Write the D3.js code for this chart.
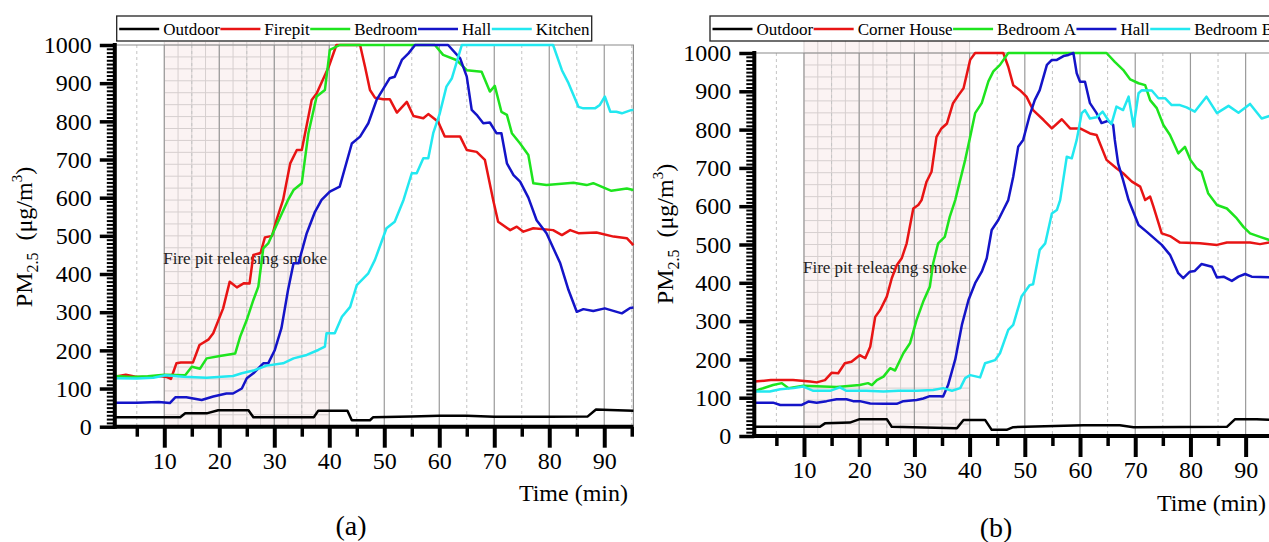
<!DOCTYPE html>
<html>
<head>
<meta charset="utf-8">
<script src="https://d3js.org/d3.v7.min.js"></script>
<style>
  html, body { margin: 0; padding: 0; background: #fff; overflow: hidden; }
  svg { display: block; font-family: 'Liberation Serif', 'Times New Roman', serif; }
  svg text { font-family: 'Liberation Serif', 'Times New Roman', serif; }
</style>
</head>
<body>
<svg id="chart" width="1269" height="542"></svg>
<script>
// ---- data: [time (min), PM2.5 (ug/m3)] ----
const outdoorA = [[1,25],[12.9,25],[13.8,35],[17.7,35],[19.8,43],[25.3,43],[26.2,25],[37.2,25],[38,42],[43.3,42],[44.1,17],[47.4,17],[48,25],[55,27],[60,29],[65,29],[70,26],[80,26],[87,27],[88.5,45],[91,44],[95.3,42]];
const firepitA = [[1,131],[3,136],[5,130],[7,131],[9,133],[10.5,130],[11.2,125],[12.2,166],[13,168],[15.2,168],[16.4,214],[18,228],[18.9,245],[20.7,310],[21.9,380],[23.2,365],[24.5,376],[25.5,375],[26.2,450],[27.5,455],[28.3,496],[29.6,500],[30.4,541],[31.6,594],[32.9,690],[34.1,725],[35,725],[36.8,856],[37.7,873],[39.2,921],[39.9,943],[41.3,1000],[45.6,1000],[46.5,943],[47.4,882],[48.3,862],[49.8,858],[51,858],[52.3,823],[54.1,851],[55.3,814],[57.1,808],[58,819],[59.8,799],[61,760],[63.8,760],[65,725],[66.8,720],[68.3,699],[69.8,594],[70.7,537],[72.9,515],[74.1,524],[75.3,511],[77.1,520],[80.7,515],[82.3,502],[83.8,515],[85.3,507],[88.6,509],[91.7,498],[94.1,494],[95.3,476]];
const bedroomA = [[1,133],[4,130],[7,132],[10,136],[13.8,135],[15,157],[16.5,152],[17.7,179],[20.1,185],[22.9,192],[23.8,236],[25,280],[26.2,332],[27.1,367],[28,467],[28.9,480],[30.4,528],[32.5,594],[33.5,620],[35,638],[36.2,769],[37.7,865],[39.2,882],[40.1,987],[41.9,1000],[59.2,1000],[60.7,974],[63.2,960],[65,934],[67.7,930],[69.2,878],[70.1,893],[71.3,825],[72.3,817],[73.2,769],[74.7,742],[76.2,712],[77.1,638],[79.5,633],[84.4,639],[86.8,633],[88,638],[91.3,618],[94.1,624],[95.3,620]];
const hallA = [[1,63],[5,63],[9,65],[11,62],[12,77],[14,77],[16.8,70],[18.9,79],[21.3,87],[22.5,87],[24.1,100],[25,127],[26.2,140],[28,166],[28.9,166],[30.1,201],[31.3,258],[32.5,358],[33.5,428],[34.4,428],[35.9,507],[37.4,563],[38.6,594],[40.1,616],[41.9,629],[44.1,742],[45.6,760],[47.1,795],[48.6,856],[51,913],[51.9,917],[53.2,961],[54.4,978],[55.6,1000],[61.6,1000],[63.8,965],[65,917],[65.9,830],[66.8,817],[68,795],[69.2,797],[70.4,769],[71.3,769],[72.3,690],[73.5,659],[74.7,642],[76.2,600],[77.7,541],[79.5,507],[82,428],[83.5,358],[85,301],[86.2,308],[88,303],[90.1,310],[93.2,297],[94.7,311],[95.3,312]];
const kitchenA = [[1,127],[5,126],[8,128],[10.2,135],[13.5,131],[17.7,128],[22.5,133],[24.1,140],[26.2,147],[28.6,160],[31.6,166],[33.5,179],[35.9,188],[38,201],[39.2,210],[39.5,245],[41,245],[42.3,288],[43.8,314],[45,371],[47.1,402],[48.3,437],[50.4,520],[51.9,537],[53.5,594],[55,664],[55.9,664],[57.1,703],[58,703],[58.9,769],[60.1,821],[61.3,891],[62.3,913],[64.1,1000],[80.7,1000],[82.3,934],[83.5,900],[85.3,838],[86.2,834],[88.3,834],[89.2,843],[90.1,865],[91.1,825],[92.2,825],[93.2,821],[95,830],[95.3,830]];

const outdoorB = [[1,24],[12.9,24],[13.8,33],[18.3,35],[20.1,44],[25,44],[25.9,24],[37.7,20],[38.9,42],[42.8,42],[44,16],[46.7,16],[47.9,23],[60.6,28],[67.2,28],[69.7,23],[86.6,24],[88.1,44],[92,44],[95.3,42]];
const cornerB = [[1,142],[4,146],[8,146],[11.1,142],[12.3,140],[13.8,146],[15,165],[16.2,164],[17.4,190],[18.6,194],[20.1,211],[21.1,203],[22,233],[22.9,311],[23.8,329],[25,364],[25.9,412],[26.8,446],[27.7,464],[28.6,503],[29.8,594],[30.7,603],[31.3,616],[32.2,664],[33.1,690],[34,781],[34.9,803],[35.9,816],[37,869],[38,890],[38.9,908],[40.1,982],[41,1000],[46.1,1000],[47,964],[47.9,916],[49.1,903],[50.3,886],[51.5,851],[53.4,825],[54.9,803],[56.7,827],[58.2,803],[60,803],[61.8,790],[63,786],[64.8,721],[66.6,699],[67.8,686],[69.4,664],[70.9,651],[71.8,616],[72.7,625],[73.3,599],[74.8,529],[76.3,522],[78.1,505],[81.7,503],[84.8,499],[86.6,505],[90.8,505],[92.6,501],[95.3,508]];
const bedroomAB = [[1,116],[2,122],[4.4,133],[6,138],[7.2,125],[9.9,131],[15.9,128],[20.1,133],[21.6,138],[22.3,133],[23.2,146],[24.4,155],[25.6,177],[26.5,171],[28,216],[29.2,242],[30.4,303],[31.6,351],[32.8,390],[33.4,451],[34.3,503],[35.5,520],[36.4,572],[37.4,616],[39.2,721],[40.1,781],[41,843],[42.2,869],[43.4,926],[44.3,952],[45.5,969],[47,1000],[64.8,1000],[66.3,977],[67.8,956],[69.1,931],[70.6,921],[71.8,916],[72.7,877],[73.9,856],[75.1,812],[76.3,786],[77.8,738],[79,755],[80,721],[81.1,699],[82,690],[83.2,634],[84.8,603],[86.6,594],[88.4,568],[89.6,546],[90.8,529],[92.6,520],[95.3,507]];
const hallB = [[1,87],[4.4,87],[5.7,81],[9.6,81],[10.8,90],[12.3,87],[14.1,91],[15.9,96],[17.7,96],[18.9,91],[20.1,91],[22,85],[24.4,84],[26.8,84],[28,91],[30.4,94],[31.6,98],[32.8,104],[34.6,104],[35.2,103],[36.1,133],[37.4,200],[38.6,290],[39.8,355],[41,399],[42.2,429],[43.1,464],[44,538],[45.2,564],[46.1,590],[47,616],[47.9,677],[48.8,755],[49.7,773],[50.9,838],[51.8,877],[52.7,903],[54,969],[54.9,982],[55.8,982],[57,992],[57.9,995],[58.8,1000],[59.4,947],[60,925],[60.9,925],[61.8,869],[63,843],[63.9,817],[65.1,823],[66,812],[66.3,773],[66.9,712],[67.8,668],[68.8,616],[70.6,551],[72.1,533],[74.8,499],[76.3,473],[77.8,425],[78.7,412],[79.9,429],[80.8,431],[82,449],[83.9,442],[84.8,414],[86,416],[87.5,405],[88.7,416],[89.9,423],[91.1,416],[95.3,414]];
const bedroomBB = [[1,116],[3.8,116],[5.7,122],[8.1,125],[9.9,129],[11.7,118],[14.7,118],[16.5,127],[17.7,118],[21.3,118],[24.4,116],[27.1,118],[30.4,118],[33.4,120],[35.2,125],[36.8,118],[38.3,125],[39.2,151],[40.1,159],[41.9,153],[42.8,190],[44.6,198],[45.5,216],[47,277],[47.9,290],[49.4,364],[50.9,394],[51.5,396],[52.7,486],[53.7,503],[54.9,581],[55.8,590],[56.4,616],[57.6,729],[58.5,725],[59.4,773],[60.3,843],[60.9,851],[61.8,829],[63,832],[64.1,847],[65.1,825],[65.7,815],[66.6,860],[67.8,851],[68.8,886],[69.7,808],[70.6,895],[71.2,903],[73,902],[74.2,882],[75.4,882],[76.6,864],[78.1,864],[79.3,858],[80.8,847],[82.9,886],[84.8,843],[86.9,862],[88.7,844],[90.8,867],[92.9,829],[95.3,840]];

const namesA = ['Outdoor', 'Firepit', 'Bedroom', 'Hall', 'Kitchen'];
const namesB = ['Outdoor', 'Corner House', 'Bedroom A', 'Hall', 'Bedroom B'];
const xTicks = [10, 20, 30, 40, 50, 60, 70, 80, 90];
const yTicks = [0, 100, 200, 300, 400, 500, 600, 700, 800, 900, 1000];
const smokeWindow = [10, 40];
const smokeLabel = 'Fire pit releasing smoke';

const COLORS = ['#000000', '#e81414', '#1ee41e', '#1414c8', '#22e8f0'];
const FONT = "'Liberation Serif', 'Times New Roman', serif";

const svg = d3.select('#chart');

const panels = [
    { tag: '(a)', names: namesA, series: [outdoorA, firepitA, bedroomA, hallA, kitchenA],
      xRange: [114.8, 633.4], yRange: [426.7, 45], shadeTop: 42, legendX: 116.7, legendW: 475,
      titleX: 32, titleY: 237, timeX: 628, timeY: 501, tagX: 351, tagY: 535 },
    { tag: '(b)', names: namesB, series: [outdoorB, cornerB, bedroomAB, hallB, bedroomBB],
      xRange: [754.3, 1274.9], yRange: [436, 53], shadeTop: 41, legendX: 710, legendW: 600,
      titleX: 673, titleY: 234, timeX: 1266, timeY: 511, tagX: 996, tagY: 537 }
];

function drawPanel(p) {
    const x = d3.scaleLinear().domain([1, 95.3]).range(p.xRange);
    const y = d3.scaleLinear().domain([0, 1000]).range(p.yRange);
    const left = x(1), right = x(95.3), bottom = y(0), top = y(1000);
    const g = svg.append('g');

    // shaded smoke period with its own fine grid
    const sx0 = x(smokeWindow[0]), sx1 = x(smokeWindow[1]);
    g.append('rect')
        .attr('x', sx0).attr('y', p.shadeTop)
        .attr('width', sx1 - sx0).attr('height', bottom - p.shadeTop)
        .attr('fill', '#fbf3f3');
    g.selectAll('.fine-v').data(d3.range(smokeWindow[0], smokeWindow[1] + 0.01, 2.5))
        .enter().append('line')
        .attr('x1', d => x(d)).attr('x2', d => x(d))
        .attr('y1', p.shadeTop).attr('y2', bottom)
        .attr('stroke', '#d6cfcf').attr('stroke-width', 1);
    g.selectAll('.fine-h').data(d3.range(1000, 0, -31.25))
        .enter().append('line')
        .attr('x1', sx0).attr('x2', sx1)
        .attr('y1', d => y(d)).attr('y2', d => y(d))
        .attr('stroke', '#d6cfcf').attr('stroke-width', 1);

    // vertical grid
    g.selectAll('.grid-dash').data(d3.range(5, 96, 10))
        .enter().append('line')
        .attr('x1', d => x(d)).attr('x2', d => x(d))
        .attr('y1', top).attr('y2', bottom)
        .attr('stroke', '#c4c4c4').attr('stroke-dasharray', '3,3');
    g.selectAll('.grid-solid').data(xTicks)
        .enter().append('line')
        .attr('x1', d => x(d)).attr('x2', d => x(d))
        .attr('y1', top).attr('y2', bottom)
        .attr('stroke', '#9a9a9a').attr('stroke-width', 1.2);

    // frame
    g.append('path')
        .attr('d', `M${left},${top}H${right}V${bottom}`)
        .attr('fill', 'none').attr('stroke', '#8a8a8a').attr('stroke-width', 1.2);

    // annotation
    g.append('text')
        .attr('x', x(smokeWindow[0]) - 1).attr('y', y(425))
        .attr('font-size', 17).attr('fill', '#222')
        .text(smokeLabel);

    // series
    const line = d3.line().x(d => x(d[0])).y(d => y(d[1]));
    p.series.forEach((s, i) => {
        g.append('path')
            .attr('d', line(s))
            .attr('fill', 'none')
            .attr('stroke', COLORS[i])
            .attr('stroke-width', 2.5)
            .attr('stroke-linejoin', 'round');
    });

    // y axis
    const yMinor = g.append('g').attr('transform', `translate(${left},0)`)
        .call(d3.axisLeft(y).tickValues(d3.range(0, 1001, 10)).tickSize(8).tickFormat(''));
    yMinor.select('.domain').remove();
    yMinor.selectAll('line').attr('stroke', '#000').attr('stroke-width', 2);

    const yMajor = g.append('g').attr('transform', `translate(${left},0)`)
        .call(d3.axisLeft(y).tickValues(yTicks).tickSize(15).tickPadding(8).tickFormat(d3.format('d')));
    yMajor.attr('font-family', FONT).attr('font-size', 24);
    yMajor.select('.domain').remove();
    yMajor.selectAll('line').attr('stroke', '#000').attr('stroke-width', 3.5);
    yMajor.selectAll('text').attr('fill', '#000').style('font-family', FONT).style('font-size', '24px');

    // x axis
    const xMinor = g.append('g').attr('transform', `translate(0,${bottom})`)
        .call(d3.axisBottom(x).tickValues(d3.range(5, 96, 10)).tickSize(10).tickFormat(''));
    xMinor.select('.domain').remove();
    xMinor.selectAll('line').attr('stroke', '#000').attr('stroke-width', 3.5);

    const xMajor = g.append('g').attr('transform', `translate(0,${bottom})`)
        .call(d3.axisBottom(x).tickValues(xTicks).tickSize(21).tickPadding(4).tickFormat(d3.format('d')));
    xMajor.attr('font-family', FONT).attr('font-size', 24);
    xMajor.select('.domain').remove();
    xMajor.selectAll('line').attr('stroke', '#000').attr('stroke-width', 4);
    xMajor.selectAll('text').attr('fill', '#000').style('font-family', FONT).style('font-size', '24px');

    // thick axis lines
    g.append('line').attr('x1', left).attr('x2', left).attr('y1', top - 2).attr('y2', bottom + 2)
        .attr('stroke', '#000').attr('stroke-width', 4);
    g.append('line').attr('x1', left - 2).attr('x2', right).attr('y1', bottom).attr('y2', bottom)
        .attr('stroke', '#000').attr('stroke-width', 4);

    // axis titles
    const title = g.append('text')
        .attr('transform', `translate(${p.titleX},${p.titleY}) rotate(-90)`)
        .attr('text-anchor', 'middle').attr('font-size', 24);
    title.append('tspan').text('PM');
    title.append('tspan').attr('font-size', 16).attr('dy', 6).text('2.5');
    title.append('tspan').attr('dy', -6).text('\u00a0 (\u03bcg/m');
    title.append('tspan').attr('font-size', 15).attr('dy', -10).text('3');
    title.append('tspan').attr('dy', 10).text(')');

    g.append('text').attr('x', p.timeX).attr('y', p.timeY)
        .attr('text-anchor', 'end').attr('font-size', 24).text('Time (min)');
    g.append('text').attr('x', p.tagX).attr('y', p.tagY)
        .attr('text-anchor', 'middle').attr('font-size', 28).text(p.tag);

    // legend
    const lg = g.append('g');
    lg.append('rect')
        .attr('x', p.legendX).attr('y', 16).attr('width', p.legendW).attr('height', 25)
        .attr('fill', '#fff').attr('stroke', '#222').attr('stroke-width', 1.3);
    let cx = p.legendX + 2.5;
    p.names.forEach((name, i) => {
        lg.append('line')
            .attr('x1', cx).attr('x2', cx + 40).attr('y1', 29).attr('y2', 29)
            .attr('stroke', COLORS[i]).attr('stroke-width', 2.5);
        const t = lg.append('text')
            .attr('x', cx + 44).attr('y', 34.5)
            .attr('font-size', 17).text(name);
        cx = cx + 44 + t.node().getComputedTextLength() + 0.5;
    });
}

panels.forEach(drawPanel);
</script>
</body>
</html>
